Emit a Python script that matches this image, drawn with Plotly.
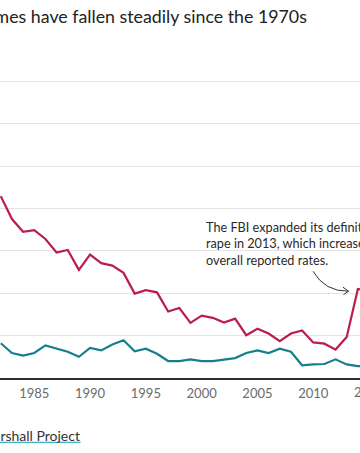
import plotly.graph_objects as go

years = list(range(1982, 2016))
rape_rate = [4.29, 3.75, 3.45, 3.49, 3.28, 2.96, 3.02, 2.55, 2.91, 2.71,
             2.65, 2.48, 1.99, 2.07, 2.02, 1.57, 1.65, 1.30, 1.47, 1.42,
             1.31, 1.40, 1.01, 1.16, 1.05, 0.87, 1.05, 1.12, 0.84, 0.81,
             0.67, 0.97, 2.10, 2.05]
other_rate = [0.82, 0.59, 0.53, 0.59, 0.77, 0.69, 0.62, 0.50, 0.71, 0.65,
              0.79, 0.89, 0.63, 0.69, 0.57, 0.40, 0.40, 0.44, 0.40, 0.40,
              0.44, 0.47, 0.59, 0.65, 0.59, 0.69, 0.62, 0.30, 0.32, 0.33,
              0.44, 0.32, 0.28, 0.27]
tick_years = [1985, 1990, 1995, 2000, 2005, 2010, 2015]
title_text = "Crimes have fallen steadily since the 1970s"
note_lines = ["The FBI expanded its definition of",
              "rape in 2013, which increased the",
              "overall reported rates."]
source_text = "Source: The Marshall Project"

RED = "#bb1d4c"
TEAL = "#15808b"
W, H = 360, 453
Y_TOP = 7.1
PX_PER_UNIT = 42.5
BASE_PX = 378.5
T = BASE_PX - Y_TOP * PX_PER_UNIT
L, R, B = 0, 0, H - BASE_PX
x_range = [1981.93, 2014.19]

fig = go.Figure()
fig.add_trace(go.Scatter(x=years, y=rape_rate, mode="lines",
                         line=dict(color=RED, width=2.2), hoverinfo="skip"))
fig.add_trace(go.Scatter(x=years, y=other_rate, mode="lines",
                         line=dict(color=TEAL, width=2.2), hoverinfo="skip"))

def px2paper_x(p):
    return (p - L) / (W - L - R)

def px2paper_y(p):
    return (H - B - p) / (H - T - B)

FONT = "Lato"

annotations = [
    dict(text=title_text, xref="paper", yref="paper",
         x=px2paper_x(309), y=px2paper_y(16), xanchor="right", yanchor="middle",
         showarrow=False, font=dict(family=FONT, size=17.8, color="#222222")),
    dict(text=source_text, xref="paper", yref="paper",
         x=px2paper_x(82), y=px2paper_y(436), xanchor="right", yanchor="middle",
         showarrow=False, font=dict(family=FONT, size=14, color="#333333")),
]
for i, line in enumerate(note_lines):
    annotations.append(dict(text=line, xref="paper", yref="paper",
                            x=px2paper_x(204), y=px2paper_y(226.7 + 16.7 * i),
                            xanchor="left", yanchor="middle", align="left",
                            showarrow=False,
                            font=dict(family=FONT, size=12.7, color="#2a2a2a")))
# partially visible 2015 tick label
last = tick_years[-1]
frac = (last - x_range[0]) / (x_range[1] - x_range[0])
annotations.append(dict(text=str(last), xref="paper", yref="paper", x=frac,
                        y=px2paper_y(393), xanchor="center", yanchor="middle",
                        showarrow=False, font=dict(family=FONT, size=13, color="#6b6b6b")))

ax0, ay0 = px2paper_x(313), px2paper_y(271.5)
cx, cy = px2paper_x(325), px2paper_y(292)
ax1, ay1 = px2paper_x(348.5), px2paper_y(291.5)
h1x, h1y = px2paper_x(343), px2paper_y(287.5)
h2x, h2y = px2paper_x(343.5), px2paper_y(295)

shapes = [
    dict(type="path", xref="paper", yref="paper",
         path=f"M {ax0},{ay0} Q {cx},{cy} {ax1},{ay1}",
         line=dict(color="#333333", width=1)),
    dict(type="path", xref="paper", yref="paper",
         path=f"M {h1x},{h1y} L {ax1},{ay1} L {h2x},{h2y}",
         line=dict(color="#333333", width=1)),
    dict(type="line", xref="paper", yref="paper",
         x0=-0.5, x1=px2paper_x(80.5), y0=px2paper_y(443), y1=px2paper_y(443),
         line=dict(color="#3ab4c1", width=1.2)),
]

fig.update_layout(
    width=W, height=H,
    margin=dict(l=L, r=R, t=T, b=B, pad=0),
    paper_bgcolor="white", plot_bgcolor="white",
    showlegend=False,
    annotations=annotations,
    shapes=shapes,
    xaxis=dict(range=x_range, tickvals=tick_years[:-1], ticks="outside",
               ticklen=2, tickcolor="rgba(0,0,0,0)",
               showgrid=False, showline=True, linecolor="#2e2e2e", linewidth=2,
               zeroline=False, fixedrange=True,
               tickfont=dict(family=FONT, size=13, color="#6b6b6b")),
    yaxis=dict(range=[0, Y_TOP], dtick=1, showticklabels=False, ticks="",
               showgrid=True, gridcolor="#e3e3e3", gridwidth=1,
               zeroline=False, showline=False, fixedrange=True),
)

fig.write_html("out.html", config={"displayModeBar": False},
               post_script="document.body.style.margin='0';document.body.style.overflow='hidden';")
